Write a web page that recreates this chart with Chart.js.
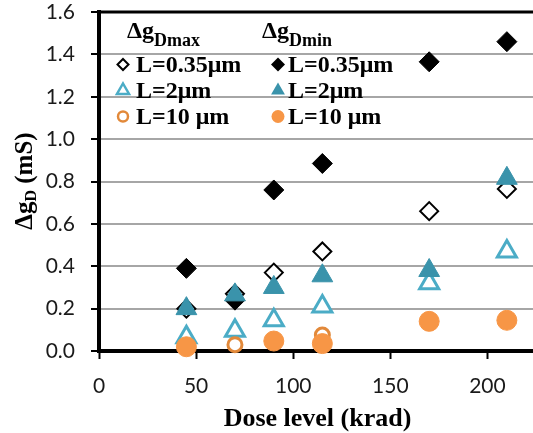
<!DOCTYPE html>
<html>
<head>
<meta charset="utf-8">
<script src="https://cdn.jsdelivr.net/npm/chart.js@4/dist/chart.umd.min.js"></script>
<style>
  html, body { margin: 0; padding: 0; background: #fff; overflow: hidden; }
  #wrap { width: 533px; height: 433px; overflow: hidden; }
</style>
</head>
<body>
<div id="wrap"><canvas id="dose-chart" width="540" height="433"></canvas></div>
<script>
// dose levels (krad)
const doses = [45, 70, 90, 115, 170, 210];

// delta gD (mS), max and min, per gate length
const dmax035 = [0.20, 0.27, 0.37, 0.47, 0.66, 0.765];
const dmin035 = [0.39, 0.24, 0.76, 0.885, 1.365, 1.46];
const dmax2 = [0.065, 0.095, 0.145, 0.21, 0.32, 0.47];
const dmin2 = [0.20, 0.265, 0.30, 0.355, 0.38, 0.815];
const dmax10 = [null, 0.03, null, 0.075, null, null];
const dmin10 = [0.02, null, 0.047, 0.035, 0.14, 0.145];

const lengths = ['L=0.35μm', 'L=2μm', 'L=10 μm'];
const yTicks = [0, 0.2, 0.4, 0.6, 0.8, 1.0, 1.2, 1.4, 1.6];
const xTicks = [0, 50, 100, 150, 200];

const SERIF = '"Liberation Serif", "Times New Roman", serif';
const SANS = 'Lato, "Open Sans", sans-serif';

function pts(vals) {
    return doses.map((d, i) => ({ x: d, y: vals[i] }));
}

function series(label, vals, style, filled, color, radius, bw, order) {
    return {
        label: label,
        data: pts(vals),
        pointStyle: style,
        pointRadius: radius,
        pointHoverRadius: radius,
        pointBackgroundColor: filled ? color : '#ffffff',
        pointBorderColor: color,
        pointBorderWidth: bw,
        order: order,
        clip: false
    };
}

// text with a lowered subscript part
function subText(ctx, x, y, main, sub, tail, size, subSize, drop, centered) {
    ctx.font = 'bold ' + size + 'px ' + SERIF;
    const w1 = ctx.measureText(main).width;
    const w3 = tail ? ctx.measureText(tail).width : 0;
    ctx.font = 'bold ' + subSize + 'px ' + SERIF;
    const w2 = ctx.measureText(sub).width;
    let sx = centered ? x - (w1 + w2 + w3) / 2 : x;
    ctx.textAlign = 'left';
    ctx.textBaseline = 'alphabetic';
    ctx.font = 'bold ' + size + 'px ' + SERIF;
    ctx.fillText(main, sx, y);
    ctx.font = 'bold ' + subSize + 'px ' + SERIF;
    ctx.fillText(sub, sx + w1, y + drop);
    if (tail) {
        ctx.font = 'bold ' + size + 'px ' + SERIF;
        ctx.fillText(tail, sx + w1 + w2, y);
    }
}

function legendMarker(ctx, style, filled, color, x, y) {
    ctx.save();
    ctx.beginPath();
    if (style === 'rectRot') {
        const r = filled ? 7 : 5.5;
        ctx.moveTo(x, y - r); ctx.lineTo(x + r, y); ctx.lineTo(x, y + r); ctx.lineTo(x - r, y);
    } else if (style === 'triangle') {
        const r = filled ? 8 : 7;
        ctx.moveTo(x, y - r);
        ctx.lineTo(x + r * 0.866, y + r / 2);
        ctx.lineTo(x - r * 0.866, y + r / 2);
    } else {
        ctx.arc(x, y, filled ? 6.5 : 5, 0, Math.PI * 2);
    }
    ctx.closePath();
    ctx.fillStyle = filled ? color : '#ffffff';
    ctx.fill();
    if (!filled) {
        ctx.lineWidth = style === 'rectRot' ? 2 : 2.5;
        ctx.strokeStyle = color;
        ctx.stroke();
    }
    ctx.restore();
}

const annotations = {
    id: 'annotations',
    beforeDatasetsDraw(chart) {
        // plot frame: top, left and bottom edges
        const a = chart.chartArea, ctx = chart.ctx;
        ctx.save();
        ctx.strokeStyle = '#000';
        ctx.lineWidth = 3;
        ctx.beginPath();
        ctx.moveTo(a.left, a.top);
        ctx.lineTo(a.right + 10, a.top);
        ctx.stroke();
        ctx.lineWidth = 4;
        ctx.beginPath();
        ctx.moveTo(a.left, a.top - 1.5);
        ctx.lineTo(a.left, a.bottom);
        ctx.lineTo(a.right + 10, a.bottom);
        ctx.stroke();
        ctx.restore();
    },
    afterDraw(chart) {
        const ctx = chart.ctx;
        ctx.save();
        ctx.fillStyle = '#000';
        // legend headers
        subText(ctx, 127, 38, 'Δg', 'Dmax', '', 24, 18, 8, false);
        subText(ctx, 262, 38, 'Δg', 'Dmin', '', 24, 18, 8, false);
        // legend rows, two columns
        const colMark = [123, 278];
        const colText = [136, 288];
        const rowY = [64.5, 90.5, 116.5];
        chart.data.datasets.forEach((ds, i) => {
            const c = i % 2, r = Math.floor(i / 2);
            const filled = ds.pointBackgroundColor !== '#ffffff';
            legendMarker(ctx, ds.pointStyle, filled, ds.pointBorderColor, colMark[c], rowY[r]);
            ctx.fillStyle = '#000';
            ctx.font = 'bold 24px ' + SERIF;
            ctx.textAlign = 'left';
            ctx.textBaseline = 'middle';
            ctx.fillText(ds.label, colText[c], rowY[r] + 1);
        });
        // y axis title, rotated
        ctx.translate(32, 181);
        ctx.rotate(-Math.PI / 2);
        ctx.fillStyle = '#000';
        subText(ctx, 0, 0, 'Δg', 'D', ' (mS)', 25, 16, 4, true);
        ctx.restore();
    }
};

new Chart(document.getElementById('dose-chart'), {
    type: 'scatter',
    data: {
        datasets: [
            series(lengths[0], dmax035, 'rectRot', false, '#000000', 9, 2, 6),
            series(lengths[0], dmin035, 'rectRot', true, '#000000', 10, 1, 5),
            series(lengths[1], dmax2, 'triangle', false, '#4bacc6', 11, 3, 4),
            series(lengths[1], dmin2, 'triangle', true, '#3a93ab', 12, 1, 3),
            series(lengths[2], dmax10, 'circle', false, '#e2893a', 7, 3, 2),
            series(lengths[2], dmin10, 'circle', true, '#f79646', 10, 1, 1)
        ]
    },
    options: {
        responsive: false,
        animation: false,
        layout: { autoPadding: false, padding: { top: 12, right: 4, left: 0, bottom: 0 } },
        plugins: {
            legend: { display: false },
            tooltip: { enabled: false }
        },
        scales: {
            x: {
                type: 'linear',
                min: 0,
                max: 225,
                afterBuildTicks: (s) => { s.ticks = xTicks.map(v => ({ value: v })); },
                afterFit: (s) => { s.height = 82; },
                border: { color: '#000', width: 4 },
                grid: {
                    drawOnChartArea: false,
                    tickLength: 8,
                    tickColor: '#000',
                    tickWidth: 2
                },
                ticks: {
                    padding: 15,
                    color: '#1a1a1a',
                    font: { family: SANS, size: 21 }
                },
                title: {
                    display: true,
                    text: 'Dose level (krad)',
                    color: '#000',
                    font: { family: SERIF, size: 26, weight: 'bold', lineHeight: 1.05 },
                    padding: { top: 0, bottom: 0 }
                }
            },
            y: {
                min: 0,
                max: 1.6,
                afterBuildTicks: (s) => { s.ticks = yTicks.map(v => ({ value: v })); },
                afterFit: (s) => { s.width = 99; s.paddingTop = 0; },
                border: { color: '#000', width: 4 },
                grid: {
                    color: '#a6a6a6',
                    lineWidth: 2,
                    tickLength: 8,
                    tickColor: '#000',
                    tickWidth: 2
                },
                ticks: {
                    padding: 16,
                    color: '#1a1a1a',
                    font: { family: SANS, size: 21 },
                    callback: (v) => v.toFixed(1)
                }
            }
        }
    },
    plugins: [annotations]
});
</script>
</body>
</html>
